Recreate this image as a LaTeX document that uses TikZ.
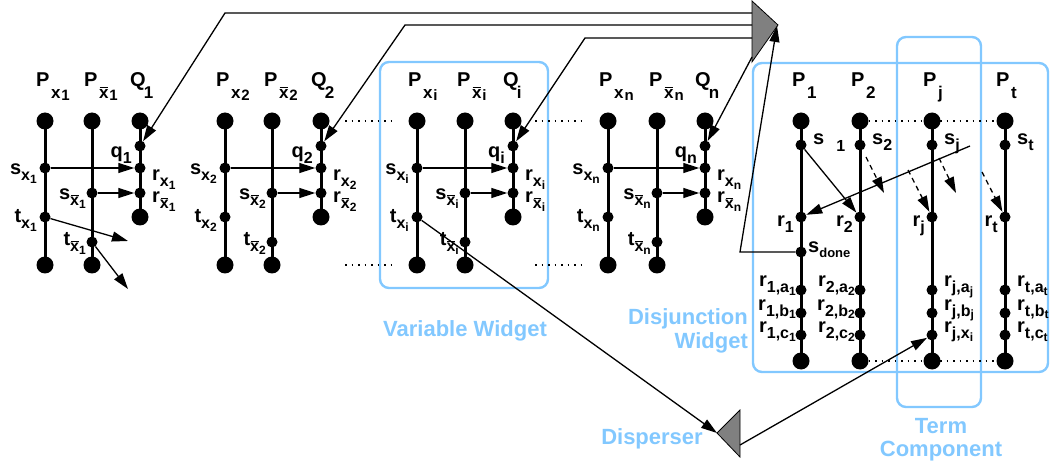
\documentclass[tikz,border=0pt]{standalone}
\usepackage{fontspec}
\setmainfont{Liberation Sans}
\usetikzlibrary{arrows.meta}
\definecolor{wblue}{RGB}{130,200,255}
\definecolor{trigray}{RGB}{128,128,128}
\newcommand{\fs}[1]{\fontsize{#1}{#1}\selectfont}
\newcommand{\xb}{\makebox[0pt][l]{\hspace{0.04em}\rule[0.64em]{0.48em}{0.07em}}x}
\newcommand{\ttl}[3]{\fs{20}#1\hspace{1.5pt}\raisebox{-12pt}{\fs{17}#2\raisebox{-2pt}{\hspace{1pt}\fs{15}#3}}}
\newcommand{\qttl}[1]{\fs{20}Q\hspace{-2pt}\raisebox{-12pt}{\fs{17}#1}}
\newcommand{\nl}[3]{\fs{20}#1\raisebox{-6pt}{\fs{16}#2\raisebox{-3pt}{\fs{12}#3}}}
\begin{document}
\begin{tikzpicture}[x=1pt,y=-1pt,
  big/.style={circle,fill=black,inner sep=0pt,minimum size=17pt},
  sm/.style={circle,fill=black,inner sep=0pt,minimum size=11pt},
  col/.style={line width=3pt},
  arr/.style={line width=1.3pt,-{Triangle[length=16pt,width=10pt]}},
  darr/.style={arr,dash pattern=on 5pt off 4pt},
  lbl/.style={inner sep=0pt,font=\bfseries},
  box/.style={draw=wblue,line width=2.4pt,rounded corners=9pt},
  blbl/.style={text=wblue,font=\bfseries\fs{22},inner sep=0pt},
  dots/.style={line width=1.5pt,dash pattern=on 1.5pt off 5pt}]
\useasboundingbox (0,0) rectangle (1050,465);

% boxes
\draw[box] (380,62) rectangle (548,288);
\draw[box] (753,63) rectangle (1048,372);
\draw[box] (897,37) rectangle (981,407);

% variable widgets
\foreach \k/\a/\b/\c in {1/45/92/140,2/225/272/321,i/417/465/513,n/608/657/705}{
  \node[big] (A\k-t) at (\a,121) {};
  \node[sm]  (A\k-s) at (\a,168) {};
  \node[sm]  (A\k-u) at (\a,217) {};
  \node[big] (A\k-b) at (\a,265) {};
  \node[big] (B\k-t) at (\b,121) {};
  \node[sm]  (B\k-s) at (\b,193) {};
  \node[sm]  (B\k-u) at (\b,242) {};
  \node[big] (B\k-b) at (\b,265) {};
  \node[big] (C\k-t) at (\c,121) {};
  \node[sm]  (C\k-q) at (\c,146) {};
  \node[sm]  (C\k-r) at (\c,168) {};
  \node[sm]  (C\k-rb) at (\c,193) {};
  \node[big] (C\k-b) at (\c,217) {};
  \draw[col] (A\k-t.center) -- (A\k-b.center);
  \draw[col] (B\k-t.center) -- (B\k-b.center);
  \draw[col] (C\k-t.center) -- (C\k-b.center);
  \draw[arr] (A\k-s) -- (C\k-r);
  \draw[arr] (B\k-s) -- (C\k-rb);
  \node[lbl,anchor=base west] (PA\k) at (\a-9,87) {\ttl{P}{x}{\k}};
  \node[lbl,anchor=base west] (PB\k) at (\b-8,87) {\ttl{P}{\xb}{\k}};
  \node[lbl,anchor=base west] (QC\k) at (\c-10,87) {\qttl{\k}};
  \node[lbl,anchor=base east] (ls\k) at ([shift={(-8,7)}]A\k-s) {\nl{s}{x}{\k}};
  \node[lbl,anchor=base east] (lt\k) at ([shift={(-8,6)}]A\k-u) {\nl{t}{x}{\k}};
  \node[lbl,anchor=base east] (lsb\k) at ([shift={(-6,7)}]B\k-s) {\nl{s}{\xb}{\k}};
  \node[lbl,anchor=base east] (ltb\k) at ([shift={(-6,4)}]B\k-u) {\nl{t}{\xb}{\k}};
  \node[lbl,anchor=base east] (lq\k) at ([shift={(-8,-10)}]C\k-r) {\nl{q}{\k}{}};
  \node[lbl,anchor=base west] (lr\k) at ([shift={(12,13)}]C\k-r) {\nl{r}{x}{\k}};
  \node[lbl,anchor=base west] (lrb\k) at ([shift={(12,10)}]C\k-rb) {\nl{r}{\xb}{\k}};
}

% dangling arrows of widget 1
\coordinate (e1) at (128,241);
\coordinate (e2) at (128,289);
\draw[arr] (A1-u) -- (e1);
\draw[arr] (B1-u) -- (e2);

% dotted continuation
\draw[dots] (345,121) -- (392,121);
\draw[dots] (345,265) -- (392,265);
\draw[dots] (535,121) -- (585,121);
\draw[dots] (535,265) -- (585,265);

% disjunction widget
\foreach \k/\x in {1/801,2/860,j/932,t/1005}{
  \node[big] (D\k-top) at (\x,121) {};
  \node[sm]  (D\k-s) at (\x,145) {};
  \node[sm]  (D\k-r) at (\x,217) {};
  \node[sm]  (D\k-a) at (\x,290) {};
  \node[sm]  (D\k-b) at (\x,313) {};
  \node[sm]  (D\k-c) at (\x,335) {};
  \node[big] (D\k-bot) at (\x,361) {};
  \draw[col] (D\k-top.center) -- (D\k-bot.center);
  \node[lbl,anchor=base west] (PD\k) at (\x-9,87) {\ttl{P}{\k}{}};
  \node[lbl,anchor=base east] (lrD\k) at ([shift={(-7,10)}]D\k-r) {\nl{r}{\k}{}};
}
\node[sm] (D1-done) at (801,252) {};
\draw[dots] (D2-top) -- (Dt-top);
\draw[dots] (D2-bot) -- (Dt-bot);

\foreach \k in {1,2}{
  \node[lbl,anchor=base east] (la\k) at ([shift={(-5,-3)}]D\k-a) {\nl{r}{\k,a}{\k}};
  \node[lbl,anchor=base east] (lb\k) at ([shift={(-5,-3)}]D\k-b) {\nl{r}{\k,b}{\k}};
  \node[lbl,anchor=base east] (lc\k) at ([shift={(-5,-3)}]D\k-c) {\nl{r}{\k,c}{\k}};
}
\foreach \k in {j,t}{
  \node[lbl,anchor=base west] (la\k) at ([shift={(12,-3)}]D\k-a) {\nl{r}{\k,a}{\k}};
  \node[lbl,anchor=base west] (lb\k) at ([shift={(12,-3)}]D\k-b) {\nl{r}{\k,b}{\k}};
}
\node[lbl,anchor=base west] (lcj) at ([shift={(12,-3)}]Dj-c) {\nl{r}{j,x}{i}};
\node[lbl,anchor=base west] (lct) at ([shift={(12,-3)}]Dt-c) {\nl{r}{t,c}{t}};

\node[lbl,anchor=base west] (ls1) at (813,145) {\fs{20}s\hspace{12pt}\raisebox{-7pt}{\fs{16}1}};
\node[lbl,anchor=base west] (ls2) at (872,145) {\nl{s}{2}{}};
\node[lbl,anchor=base west] (lsj) at (944,145) {\nl{s}{j}{}};
\node[lbl,anchor=base west] (lst) at (1017,145) {\nl{s}{t}{}};
\node[lbl,anchor=base west] (lsd) at (808,253) {\fs{20}s\raisebox{-5pt}{\fs{13}done}};

% arrows inside disjunction widget
\draw[arr] (D1-s) -- (D2-r);
\coordinate (sjx) at (970,146);
\draw[arr] (sjx) -- (D1-r);
\coordinate (d1s) at (866,157); \coordinate (d1e) at (884,193);
\coordinate (d2s) at (908,170);
\coordinate (d3s) at (939,158); \coordinate (d3e) at (956,193);
\coordinate (d4s) at (982,172);
\draw[darr] (d1s) -- (d1e);
\draw[darr] (d2s) -- (Dj-r);
\draw[darr] (d3s) -- (d3e);
\draw[darr] (d4s) -- (Dt-r);

% top triangle and its connections
\draw[fill=trigray,line width=0.8pt] (752,1) -- (752,62) -- (778,25) -- cycle;
\coordinate (h1) at (752,13); \coordinate (k1) at (225,13);
\coordinate (h2) at (752,25); \coordinate (k2) at (405,25);
\coordinate (h3) at (752,38); \coordinate (k3) at (585,38);
\coordinate (h4) at (752,57);
\coordinate (ttip) at (777,26);
\coordinate (sd) at (740,252);
\draw[arr] (h1) -- (k1) -- (C1-q);
\draw[arr] (h2) -- (k2) -- (C2-q);
\draw[arr] (h3) -- (k3) -- (Ci-q);
\draw[arr] (h4) -- (Cn-q);
\draw[arr] (D1-done) -- (sd) -- (ttip);

% disperser
\draw[fill=trigray,line width=0.8pt] (717,433) -- (740,410) -- (740,457) -- cycle;
\coordinate (dtip) at (717,433);
\coordinate (dout) at (740,445);
\draw[arr] (Ai-u) -- (dtip);
\draw[arr] (dout) -- (Dj-c);

% blue labels
\node[blbl,anchor=base] (vw) at (465,336) {Variable Widget};
\node[blbl,anchor=base east] (dw1) at (748,324) {Disjunction};
\node[blbl,anchor=base east] (dw2) at (748,348) {Widget};
\node[blbl,anchor=base] (dsp) at (652,444) {Disperser};
\node[blbl,anchor=base] (tc1) at (941,433) {Term};
\node[blbl,anchor=base] (tc2) at (941,456) {Component};
\end{tikzpicture}
\end{document}
